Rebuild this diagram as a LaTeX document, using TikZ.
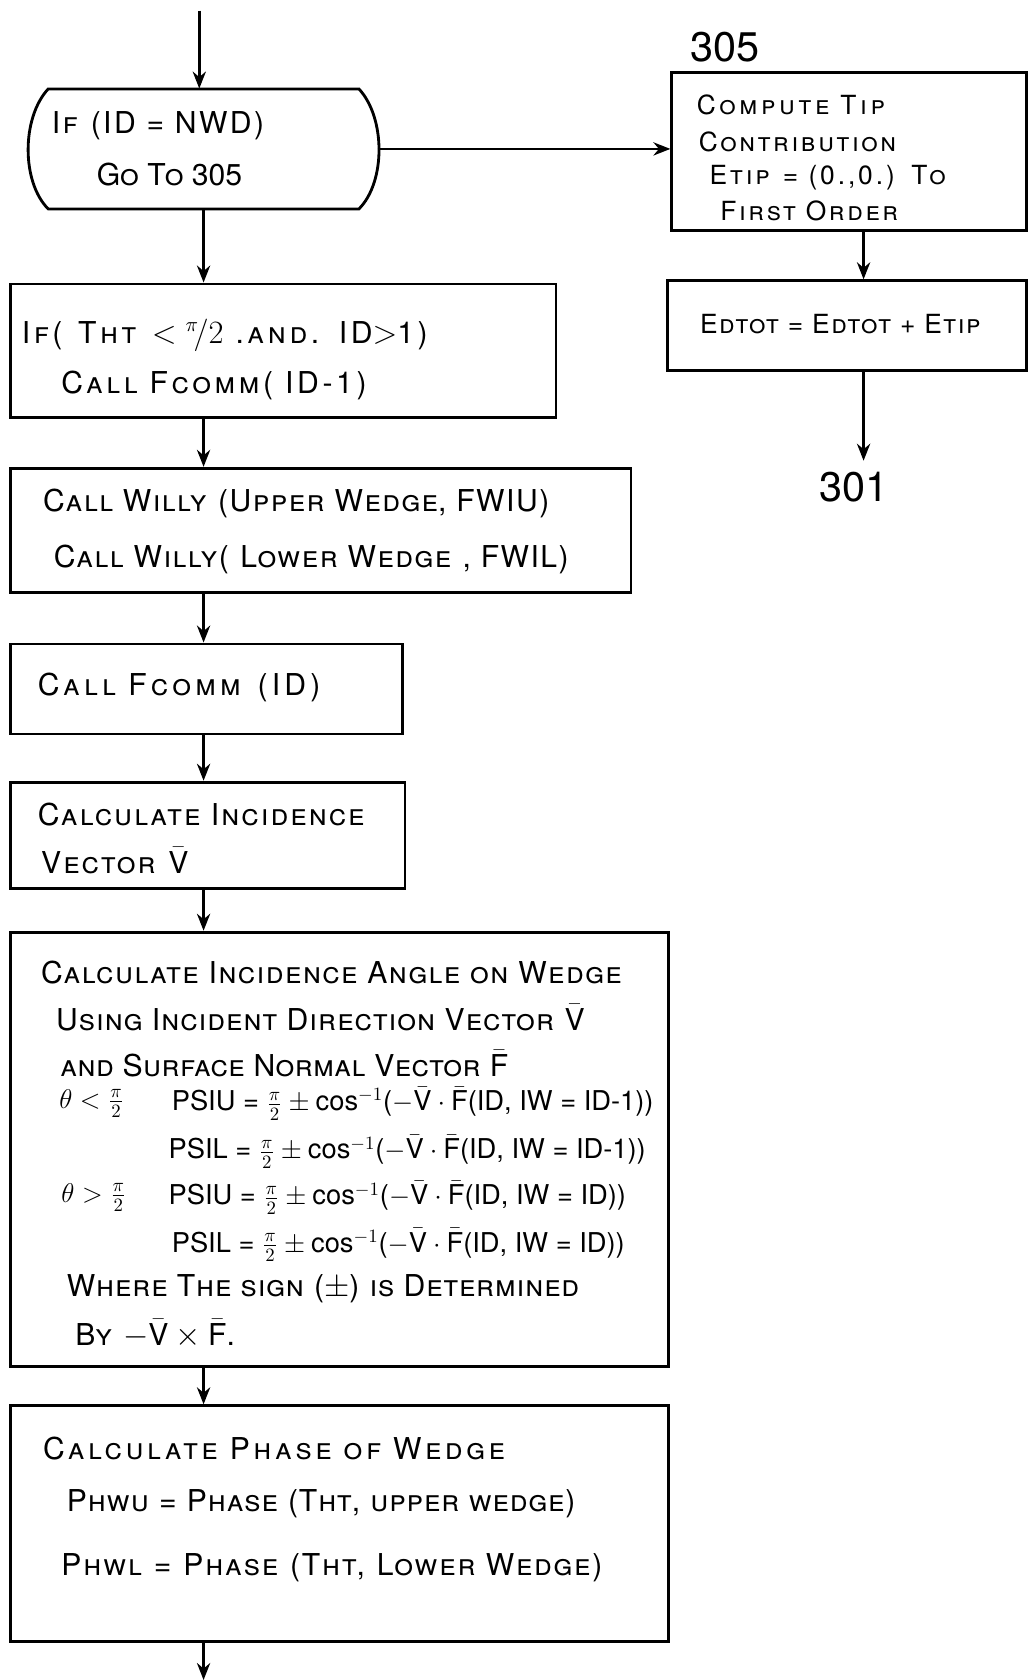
\documentclass[tikz,border=0pt]{standalone}
\usepackage{fontspec}
\setmainfont{TeX Gyre Heros}
\usetikzlibrary{arrows.meta,fit}
\begin{document}
\begin{tikzpicture}[x=0.02cm,y=-0.02cm,
  ln/.style={line width=1.5pt},
  box/.style={ln, draw, inner sep=0pt, rectangle},
  ghost/.style={inner sep=0pt, rectangle},
  arr/.style={ln, -{Stealth[length=9pt,width=7pt]}},
  txt/.style={inner sep=0pt, anchor=west, font=\fontsize{16}{19}\selectfont\addfontfeatures{LetterSpace=#1}},
  txt/.default=0,
  stxt/.style={inner sep=0pt, anchor=west, font=\fontsize{14}{17}\selectfont\addfontfeatures{LetterSpace=#1}},
  stxt/.default=0,
  ftxt/.style={inner sep=0pt, anchor=west, font=\fontsize{14.5}{17}\selectfont},
  lbl/.style={inner sep=0pt, font=\fontsize{22}{26}\selectfont}]
\useasboundingbox (0,0) rectangle (960,1568);

% boxes
\node[ghost, fit={(25,83) (352,195)}] (dec) {};
\draw[ln] (45,83) -- (335,83) .. controls (360,110) and (360,170) .. (335,195)
  -- (45,195) .. controls (20,170) and (20,110) .. cycle;
\node[box, fit={(627,68) (958,215)}] (b305) {};
\node[box, fit={(623,262) (958,346)}] (bsum) {};
\node[box, fit={(10,265) (519,390)}] (b2) {};
\node[box, fit={(10,437) (589,553)}] (b3) {};
\node[box, fit={(10,601) (376,685)}] (b4) {};
\node[box, fit={(10,730) (378,829)}] (b5) {};
\node[box, fit={(10,870) (624,1275)}] (b6) {};
\node[box, fit={(10,1312) (624,1532)}] (b7) {};

% labels
\node[lbl] (l305) at (677,44) {305};
\node[lbl] (l301) at (797,455) {301};

% texts
\node[txt=8] (d1) at (48,117) {\textsc{If} (ID = NWD)};
\node[txt] (d2) at (90,163) {\textsc{Go To} 305};

\node[stxt=14] (r1) at (650,98) {\textsc{Compute Tip}};
\node[stxt=10] (r2) at (652,132) {\textsc{Contribution}};
\node[stxt=11] (r3) at (662,166) {\textsc{Etip} = (0.,0.) \textsc{To}};
\node[stxt=10] (r4) at (672,197) {\textsc{First Order}};
\node[stxt=6] (s1) at (653,302) {\textsc{Edtot = Edtot + Etip}};

\node[txt=12] (t21) at (20,313) {\textsc{If}( \textsc{Tht} $<{}^{\pi}\!/2$ \textsc{.and.} ID$>$1)};
\node[txt=12] (t22) at (57,360) {\textsc{Call Fcomm}( ID-1)};

\node[txt=5] (t31) at (40,470) {\textsc{Call Willy} (\textsc{Upper Wedge}, FWIU)};
\node[txt=5] (t32) at (50,522) {\textsc{Call Willy}( \textsc{Lower Wedge} , FWIL)};

\node[txt=14] (t41) at (35,642) {\textsc{Call Fcomm} (ID)};

\node[txt=7] (t51) at (35,760) {\textsc{Calculate Incidence}};
\node[txt=7] (t52) at (38,803) {\textsc{Vector} $\bar{\mathrm{V}}$};

\node[txt=5] (t61) at (38,908) {\textsc{Calculate Incidence Angle on Wedge}};
\node[txt=3.5] (t62) at (52,950) {\textsc{Using Incident Direction Vector} $\bar{\mathrm{V}}$};
\node[txt=1.5] (t63) at (56,993) {\textsc{and Surface Normal Vector} $\bar{\mathrm{F}}$};
\node[ftxt] (t64) at (55,1030) {$\theta<\frac{\pi}{2}$};
\node[ftxt] (t65) at (160,1030) {PSIU = $\frac{\pi}{2}\pm\cos^{-1}$($-\bar{\mathrm{V}}\cdot\bar{\mathrm{F}}$(ID, IW = ID-1))};
\node[ftxt] (t66) at (157,1075) {PSIL = $\frac{\pi}{2}\pm\cos^{-1}$($-\bar{\mathrm{V}}\cdot\bar{\mathrm{F}}$(ID, IW = ID-1))};
\node[ftxt] (t67) at (57,1118) {$\theta>\frac{\pi}{2}$};
\node[ftxt] (t68) at (157,1118) {PSIU = $\frac{\pi}{2}\pm\cos^{-1}$($-\bar{\mathrm{V}}\cdot\bar{\mathrm{F}}$(ID, IW = ID))};
\node[ftxt] (t69) at (160,1162) {PSIL = $\frac{\pi}{2}\pm\cos^{-1}$($-\bar{\mathrm{V}}\cdot\bar{\mathrm{F}}$(ID, IW = ID))};
\node[txt=3] (t6a) at (62,1203) {\textsc{Where The sign} ($\pm$) \textsc{is Determined}};
\node[txt=4] (t6b) at (70,1245) {\textsc{By} $-\bar{\mathrm{V}}\times\bar{\mathrm{F}}$.};

\node[txt=12] (t71) at (40,1352) {\textsc{Calculate Phase of Wedge}};
\node[txt=3] (t72) at (62,1403) {\textsc{Phwu} = \textsc{Phase} (\textsc{Tht}, \textsc{upper wedge})};
\node[txt=6] (t73) at (57,1463) {\textsc{Phwl} = \textsc{Phase} (\textsc{Tht}, \textsc{Lower Wedge})};

% connectors
\coordinate (start) at (186,10);
\coordinate (spine) at (190,0);
\coordinate (rspine) at (806,0);
\coordinate (r301) at (806,430);
\coordinate (end) at (190,1568);
\draw[arr] (start) -- (start |- dec.north);
\draw[arr] (dec.east) -- (dec.east -| b305.west);
\draw[arr] (rspine |- b305.south) -- (rspine |- bsum.north);
\draw[arr] (rspine |- bsum.south) -- (r301);
\draw[arr] (spine |- dec.south) -- (spine |- b2.north);
\draw[arr] (spine |- b2.south) -- (spine |- b3.north);
\draw[arr] (spine |- b3.south) -- (spine |- b4.north);
\draw[arr] (spine |- b4.south) -- (spine |- b5.north);
\draw[arr] (spine |- b5.south) -- (spine |- b6.north);
\draw[arr] (spine |- b6.south) -- (spine |- b7.north);
\draw[arr] (spine |- b7.south) -- (end);
\end{tikzpicture}
\end{document}
